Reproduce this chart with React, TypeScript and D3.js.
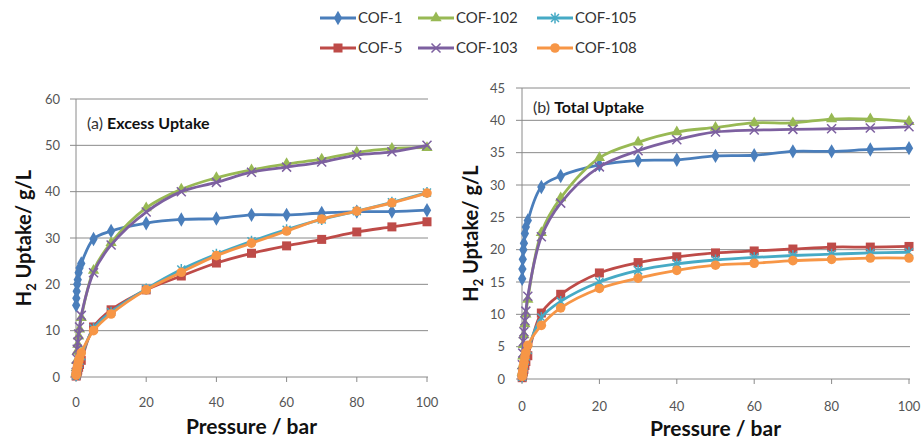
import React from 'react';
import * as d3 from 'd3';

// Pressure points (bar) shared by all series
const PRESSURE = [0.05, 0.1, 0.2, 0.35, 0.5, 0.75, 1, 1.5, 5, 10, 20, 30, 40, 50, 60, 70, 80, 90, 100];

const X_TICKS = [0, 20, 40, 60, 80, 100];
const EXCESS_TICKS = [0, 10, 20, 30, 40, 50, 60];
const TOTAL_TICKS = [0, 5, 10, 15, 20, 25, 30, 35, 40, 45];

const SERIES_NAMES = ['COF-1', 'COF-5', 'COF-102', 'COF-103', 'COF-105', 'COF-108'];

// (a) Excess uptake, g/L
const EXCESS_COF1 = [15.5, 17, 18.5, 20, 21, 22.5, 23.5, 24.5, 29.8, 31.5, 33.2, 34, 34.2, 35, 35, 35.4, 35.7, 35.7, 36];
const EXCESS_COF5 = [0.2, 0.4, 0.7, 1.1, 1.5, 2.1, 2.7, 3.6, 10.8, 14.5, 18.8, 21.8, 24.6, 26.7, 28.3, 29.7, 31.3, 32.4, 33.5];
const EXCESS_COF102 = [1, 2, 3.5, 5.5, 7, 8.8, 10.3, 12.8, 23, 29, 36.5, 40.5, 43, 44.7, 46, 47, 48.5, 49.3, 49.5];
const EXCESS_COF103 = [1, 2.2, 4, 6, 7.5, 9.3, 10.8, 13.3, 22.5, 28.5, 35.6, 40, 42, 44.2, 45.3, 46.4, 47.9, 48.6, 50];
const EXCESS_COF105 = [0.3, 0.6, 1, 1.6, 2.1, 2.8, 3.5, 4.5, 10.5, 14, 19, 23.2, 26.5, 29.3, 31.8, 34, 35.8, 37.7, 39.8];
const EXCESS_COF108 = [0.4, 0.8, 1.3, 2, 2.6, 3.4, 4.1, 5.2, 10, 13.6, 18.8, 22.6, 26.2, 28.9, 31.5, 34.1, 35.8, 37.6, 39.7];

// (b) Total uptake, g/L
const TOTAL_COF1 = [15.5, 17, 18.5, 20, 21, 22.5, 23.5, 24.5, 29.7, 31.4, 33.1, 33.8, 33.9, 34.5, 34.6, 35.2, 35.2, 35.5, 35.7];
const TOTAL_COF5 = [0.2, 0.4, 0.7, 1.1, 1.5, 2.1, 2.7, 3.6, 10.2, 13.1, 16.4, 18, 18.9, 19.5, 19.8, 20.1, 20.4, 20.4, 20.5];
const TOTAL_COF102 = [1, 2, 3.5, 5.3, 6.8, 8.5, 10, 12.3, 22.6, 28, 34.2, 36.6, 38.2, 38.9, 39.6, 39.6, 40.2, 40.2, 39.8];
const TOTAL_COF103 = [1, 2.2, 4, 5.8, 7.3, 9, 10.5, 12.8, 22, 27.2, 32.8, 35.3, 37, 38.2, 38.5, 38.6, 38.7, 38.8, 39];
const TOTAL_COF105 = [0.3, 0.6, 1, 1.6, 2.1, 2.8, 3.5, 4.5, 9.5, 12, 15, 16.8, 17.8, 18.4, 18.8, 19.1, 19.3, 19.5, 19.6];
const TOTAL_COF108 = [0.4, 0.8, 1.3, 2, 2.6, 3.4, 4.1, 5.2, 8.3, 11, 14, 15.6, 16.8, 17.6, 17.9, 18.3, 18.5, 18.7, 18.7];

const EXCESS = [EXCESS_COF1, EXCESS_COF5, EXCESS_COF102, EXCESS_COF103, EXCESS_COF105, EXCESS_COF108];
const TOTAL = [TOTAL_COF1, TOTAL_COF5, TOTAL_COF102, TOTAL_COF103, TOTAL_COF105, TOTAL_COF108];

const COLORS = ['#4A7EBB', '#BE4B48', '#98B954', '#7D60A0', '#46AAC5', '#F79646'];
const SHAPES = ['diamond', 'square', 'triangle', 'x', 'star', 'circle'];

const FONT = 'Lato, "Open Sans", sans-serif';

function Marker({ shape, color, x, y }: { shape: string; color: string; x: number; y: number }) {
  const t = `translate(${x},${y})`;
  if (shape === 'diamond') return <path transform={t} d={d3.symbol().type(d3.symbolDiamond).size(60)() || ''} fill={color} />;
  if (shape === 'square') return <rect x={x - 4.5} y={y - 4.5} width={9} height={9} fill={color} />;
  if (shape === 'triangle') return <path transform={t} d={d3.symbol().type(d3.symbolTriangle).size(55)() || ''} fill={color} />;
  if (shape === 'circle') return <circle cx={x} cy={y} r={4.8} fill={color} />;
  if (shape === 'x')
    return <path transform={t} d="M-4.5,-4.5L4.5,4.5M-4.5,4.5L4.5,-4.5" stroke={color} strokeWidth={1.5} fill="none" />;
  return <path transform={t} d="M-4,-4L4,4M-4,4L4,-4M0,-5.5L0,5.5" stroke={color} strokeWidth={1.5} fill="none" />;
}

type PanelProps = {
  left: number; right: number; top: number; bottom: number;
  yMax: number; yTicks: number[]; series: number[][];
  tag: string; title: string; titleY: number;
  yTitleX: number; xTitleY: number; xLabelY: number; yLabelRight: number;
};

function Panel(p: PanelProps) {
  const x = d3.scaleLinear().domain([0, 100]).range([p.left, p.right]);
  const y = d3.scaleLinear().domain([0, p.yMax]).range([p.bottom, p.top]);
  const line = d3.line<number>().x((_, i) => x(PRESSURE[i])).y((d) => y(d)).curve(d3.curveCatmullRom.alpha(0.5));
  const cx = (p.left + p.right) / 2;
  const cy = (p.top + p.bottom) / 2;
  return (
    <g>
      {p.yTicks.map((t) => (
        <g key={'y' + t}>
          <line x1={p.left - 6} x2={p.right + 1} y1={y(t)} y2={y(t)} stroke="#8a8a8a" strokeWidth={1} />
          <text x={p.yLabelRight} y={y(t) + 4.5} textAnchor="end" fontSize={13} fill="#555" fontFamily={FONT}>{t}</text>
        </g>
      ))}
      <line x1={p.left} x2={p.left} y1={p.top} y2={p.bottom} stroke="#8a8a8a" strokeWidth={1} />
      {X_TICKS.map((t) => (
        <g key={'x' + t}>
          <line x1={x(t)} x2={x(t)} y1={p.bottom} y2={p.bottom + 5} stroke="#8a8a8a" strokeWidth={1} />
          <text x={x(t)} y={p.xLabelY} textAnchor="middle" fontSize={13} fill="#555" fontFamily={FONT}>{t}</text>
        </g>
      ))}
      {p.series.map((s, si) => (
        <g key={'s' + si}>
          <path d={line(s) || ''} fill="none" stroke={COLORS[si]} strokeWidth={2.8} strokeLinejoin="round" />
          {s.map((v, i) => (
            <Marker key={i} shape={SHAPES[si]} color={COLORS[si]} x={x(PRESSURE[i])} y={y(v)} />
          ))}
        </g>
      ))}
      <text x={p.left + 11} y={p.titleY} fontSize={16} fontFamily={FONT} fill="#111">
        <tspan fill="#333">{p.tag} </tspan>
        <tspan fontWeight="bold">{p.title}</tspan>
      </text>
      <text x={cx} y={p.xTitleY} textAnchor="middle" fontSize={21} fontWeight="bold" fontFamily={FONT} fill="#111">Pressure / bar</text>
      <text transform={`translate(${p.yTitleX},${cy}) rotate(-90)`} textAnchor="middle" fontSize={20} fontWeight="bold" fontFamily={FONT} fill="#111">
        H<tspan fontSize={13} dy={5}>2</tspan><tspan dy={-5}> Uptake/ g/L</tspan>
      </text>
    </g>
  );
}

function Legend() {
  const cols = [320, 418, 537];
  const rows = [18, 48];
  return (
    <g>
      {SERIES_NAMES.map((name, i) => {
        const col = Math.floor(i / 2);
        const row = i % 2;
        const lx = cols[col];
        const ly = rows[row];
        return (
          <g key={name}>
            <line x1={lx} x2={lx + 36} y1={ly} y2={ly} stroke={COLORS[i]} strokeWidth={2.8} />
            <Marker shape={SHAPES[i]} color={COLORS[i]} x={lx + 18} y={ly} />
            <text x={lx + 38} y={ly + 5} fontSize={15} fill="#333" fontFamily={FONT}>{name}</text>
          </g>
        );
      })}
    </g>
  );
}

export default function App() {
  return (
    <svg width={924} height={442} style={{ position: 'absolute', left: 0, top: 0, background: '#fff' }}>
      <rect width={924} height={442} fill="#fff" />
      <Legend />
      <Panel left={76} right={427} top={99} bottom={377} yMax={60} yTicks={EXCESS_TICKS} series={EXCESS}
        tag="(a)" title="Excess Uptake" titleY={129} yTitleX={31} xTitleY={434} xLabelY={407} yLabelRight={60} />
      <Panel left={522} right={909} top={88} bottom={379} yMax={45} yTicks={TOTAL_TICKS} series={TOTAL}
        tag="(b)" title="Total Uptake" titleY={113} yTitleX={478} xTitleY={436} xLabelY={411} yLabelRight={505} />
    </svg>
  );
}
